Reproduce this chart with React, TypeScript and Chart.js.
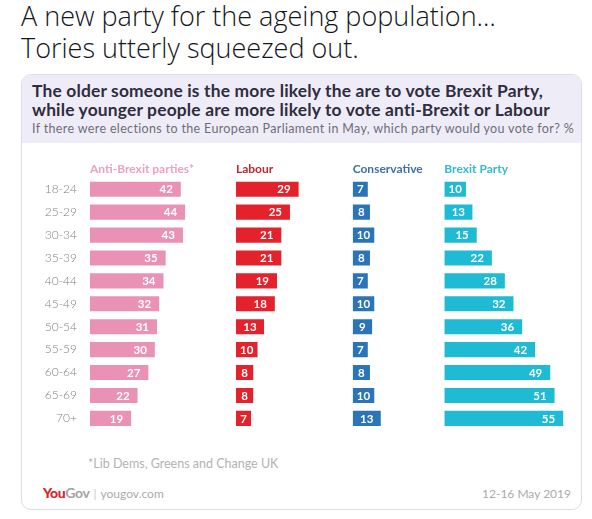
import React, { useEffect, useRef } from 'react';
import { Chart, registerables } from 'chart.js';

Chart.register(...registerables);

// ---- data ----
const ageGroups = ['18-24', '25-29', '30-34', '35-39', '40-44', '45-49', '50-54', '55-59', '60-64', '65-69', '70+'];
const antiBrexit = [42, 44, 43, 35, 34, 32, 31, 30, 27, 22, 19];
const labour = [29, 25, 21, 21, 19, 18, 13, 10, 8, 8, 7];
const conservative = [7, 8, 10, 8, 7, 10, 9, 7, 8, 10, 13];
const brexitParty = [10, 13, 15, 22, 28, 32, 36, 42, 49, 51, 55];
const seriesNames = ['Anti-Brexit parties*', 'Labour', 'Conservative', 'Brexit Party'];
// width of each column expressed in percentage points
const columnMax = [67.5, 54, 42.4, 58];

// ---- styles ----
const barColors = ['#ea92b5', '#e3222c', '#2b74b8', '#1fbad4'];
const headerColors = ['#eca2c1', '#c4262e', '#3f70a5', '#33bad4'];

const valueLabels = {
  id: 'valueLabels',
  afterDatasetsDraw(chart: any) {
    const ctx = chart.ctx;
    ctx.save();
    ctx.font = 'bold 11.5px Lato';
    ctx.fillStyle = '#ffffff';
    ctx.textBaseline = 'middle';
    chart.data.datasets.forEach((ds: any, di: number) => {
      const meta = chart.getDatasetMeta(di);
      meta.data.forEach((bar: any, i: number) => {
        const { x, y, base } = bar.getProps(['x', 'y', 'base'], true);
        const text = String(ds.data[i]);
        const w = ctx.measureText(text).width;
        const left = Math.min(x, base);
        const right = Math.max(x, base);
        if (right - left - 16 >= w) {
          ctx.textAlign = 'right';
          ctx.fillText(text, right - 8, y + 0.5);
        } else {
          ctx.textAlign = 'center';
          ctx.fillText(text, (left + right) / 2, y + 0.5);
        }
      });
    });
    ctx.restore();
  },
};

function BarsChart() {
  const ref = useRef<HTMLCanvasElement | null>(null);
  useEffect(() => {
    if (!ref.current) return;
    const series = [antiBrexit, labour, conservative, brexitParty];
    const scales: any = {
      y: {
        type: 'category',
        position: 'left',
        grid: { display: false, drawTicks: false },
        border: { display: false },
        ticks: { color: '#808080', font: { family: 'Lato', size: 12, weight: 300 }, padding: 13 },
        afterFit: (s: any) => {
          s.width = 68;
        },
      },
    };
    series.forEach((_, i) => {
      scales['x' + i] = {
        type: 'linear',
        position: 'top',
        stack: 'cols',
        stackWeight: columnMax[i],
        weight: series.length - i,
        min: 0,
        max: columnMax[i],
        grid: { display: false, drawTicks: false },
        border: { display: false },
        ticks: { display: false },
        title: {
          display: true,
          text: seriesNames[i],
          align: 'start',
          color: headerColors[i],
          font: { family: 'Lato', size: 12, weight: 'bold' },
          padding: { top: 11.7, bottom: 1.7 },
        },
      };
    });
    const chart = new Chart(ref.current, {
      type: 'bar',
      data: {
        labels: ageGroups,
        datasets: series.map((d, i) => ({
          label: seriesNames[i],
          data: d,
          xAxisID: 'x' + i,
          yAxisID: 'y',
          backgroundColor: barColors[i],
          grouped: false,
          barPercentage: 0.66,
          categoryPercentage: 1,
        })) as any,
      },
      options: {
        indexAxis: 'y',
        animation: false,
        responsive: true,
        maintainAspectRatio: false,
        layout: { padding: { left: 0, right: 12.3, top: 0, bottom: 8.2 } },
        plugins: { legend: { display: false }, tooltip: { enabled: false } },
        scales,
      } as any,
      plugins: [valueLabels],
    });
    return () => chart.destroy();
  }, []);
  return (
    <div style={{ position: 'absolute', left: 22, top: 150, width: 560, height: 300 }}>
      <canvas ref={ref} />
    </div>
  );
}

export default function App() {
  return (
    <div style={{ position: 'absolute', left: 0, top: 0, width: 592, height: 519, background: '#ffffff', overflow: 'hidden' }}>
      <div
        style={{
          position: 'absolute',
          left: 21,
          top: 0,
          fontFamily: "'Open Sans', sans-serif",
          fontWeight: 300,
          fontSize: 27,
          lineHeight: '32px',
          color: '#14171a',
          whiteSpace: 'nowrap',
        }}
      >
        <div>A new party for the ageing population…</div>
        <div>Tories utterly squeezed out.</div>
      </div>
      <div
        style={{
          position: 'absolute',
          left: 21,
          top: 74,
          width: 561,
          height: 436,
          boxSizing: 'border-box',
          border: '1px solid #dedde3',
          borderRadius: 10,
          overflow: 'hidden',
          background: '#ffffff',
        }}
      >
        <div style={{ position: 'absolute', left: 0, top: 0, right: 0, height: 68, background: '#eeecf6' }} />
        <div
          style={{
            position: 'absolute',
            left: 10,
            top: 7,
            fontFamily: "Lato, sans-serif",
            fontWeight: 700,
            fontSize: 17.4,
            letterSpacing: 0.17,
            lineHeight: '18.5px',
            color: '#2f2d3e',
            whiteSpace: 'nowrap',
          }}
        >
          <div>The older someone is the more likely the are to vote Brexit Party,</div>
          <div>while younger people are more likely to vote anti-Brexit or Labour</div>
        </div>
        <div
          style={{
            position: 'absolute',
            left: 10,
            top: 47,
            fontFamily: "Lato, sans-serif",
            fontWeight: 400,
            fontSize: 12.5,
            letterSpacing: 0.35,
            lineHeight: '14px',
            color: '#6e6c7b',
            whiteSpace: 'nowrap',
          }}
        >
          If there were elections to the European Parliament in May, which party would you vote for? %
        </div>
        <div
          style={{
            position: 'absolute',
            left: 66,
            top: 382,
            fontFamily: "Lato, sans-serif",
            fontSize: 12.5,
            lineHeight: '14px',
            color: '#b3b3b3',
            whiteSpace: 'nowrap',
          }}
        >
          *Lib Dems, Greens and Change UK
        </div>
        <div
          style={{
            position: 'absolute',
            left: 21,
            top: 411,
            fontFamily: "Lato, sans-serif",
            fontSize: 12,
            lineHeight: '14px',
            color: '#ababab',
            whiteSpace: 'nowrap',
          }}
        >
          <span style={{ fontWeight: 900, fontSize: 14, color: '#d6262d', letterSpacing: -0.5 }}>You</span>
          <span style={{ fontWeight: 700, fontSize: 14, color: '#a3a3a3', letterSpacing: -0.3 }}>Gov</span>
          <span style={{ color: '#c8c8c8', margin: '0 4px' }}>|</span>
          <span>yougov.com</span>
        </div>
        <div
          style={{
            position: 'absolute',
            right: 10,
            top: 412,
            fontFamily: "Lato, sans-serif",
            fontSize: 12,
            lineHeight: '14px',
            color: '#ababab',
            whiteSpace: 'nowrap',
          }}
        >
          12-16 May 2019
        </div>
      </div>
      <BarsChart />
    </div>
  );
}
